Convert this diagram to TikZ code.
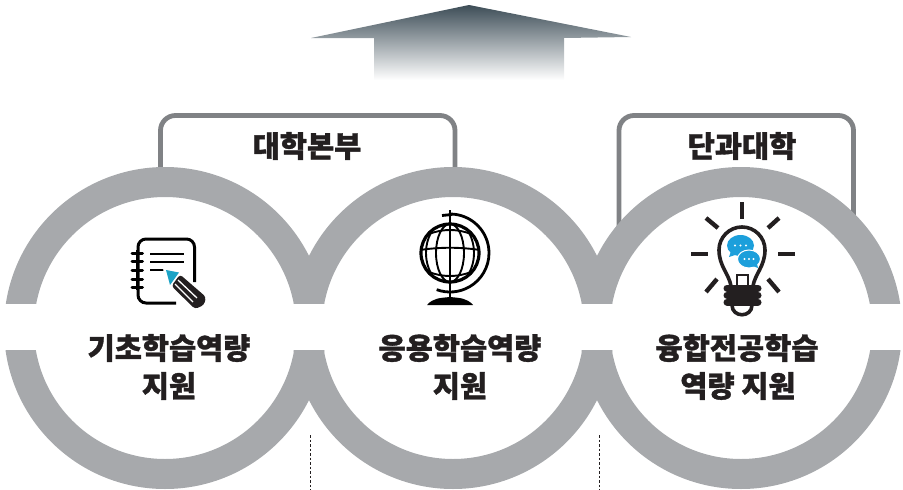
\documentclass[tikz,border=0pt]{standalone}
\usepackage{fontspec}
\newfontfamily\hangul{Noto Sans CJK KR}[BoldFeatures={FakeBold=1.2}]
\definecolor{ringgray}{HTML}{A7A9AC}
\definecolor{boxgray}{HTML}{808285}
\definecolor{inkdark}{HTML}{231F20}
\definecolor{arrowtop}{HTML}{3D4D57}
\definecolor{penteal}{HTML}{1BA3C6}
\definecolor{bubbleblue}{HTML}{1C9FDB}
\tikzset{
    biglabel/.style={font=\hangul\bfseries\fontsize{29.5}{32}\selectfont, text=inkdark, inner sep=0pt, align=center},
    iconline/.style={draw=black, line width=3pt},
    rayline/.style={draw=inkdark, line width=4.4pt}
}

\begin{document}
\begin{tikzpicture}[x=1pt, y=-1pt]
    \useasboundingbox (0,0) rectangle (903,490);

    % arrow on top
    \shade[top color=arrowtop, bottom color=white, middle color=arrowtop!50!white]
        (469,5) -- (631,37) -- (564,38) -- (564,80) -- (374,80) -- (374,38) -- (311,38) -- cycle;

    % brackets behind the rings
    \draw[boxgray, line width=4.8pt, rounded corners=15pt] (160.5,190) -- (160.5,115.5) -- (455,115.5) -- (455,190);
    \draw[boxgray, line width=4.8pt, rounded corners=15pt] (619,240) -- (619,115.5) -- (853.5,115.5) -- (853.5,240);

    % rings
    \foreach \cx in {165,453,741}
        \fill[ringgray, even odd rule] (\cx,328) circle [radius=161] (\cx,328) circle [radius=131];
    \fill[white] (0,304) rectangle (903,350);

    % dashed marks
    \draw[inkdark, line width=0.9pt, dash pattern=on 2.5pt off 2pt] (310,435) -- (310,490);
    \draw[inkdark, line width=0.9pt, dash pattern=on 2.5pt off 2pt] (599,435) -- (599,490);

    % notebook
    \draw[iconline, rounded corners=8pt] (194.5,282) -- (194.5,239) -- (138,239) -- (138,303) -- (176,303);
    \foreach \yy in {253,261,270,279,287}
        \draw[black, line width=3pt, line cap=round] (132,\yy) -- (142.5,\yy);
    \draw[black, line width=3.4pt] (137.5,250) -- (137.5,290);
    \draw[black, line width=2.8pt] (150,254) -- (184,254);
    \draw[black, line width=2.8pt] (150,262) -- (184,262);
    \draw[black, line width=2.8pt] (150,270) -- (165,270);
    \fill[white] (163,268) -- (181,271) -- (209,298) -- (195,312) -- (166,285) -- cycle;
    \fill[penteal] (166,270) -- (179,272.5) -- (170,285) -- cycle;
    \fill[inkdark, rounded corners=3pt] (180,274.5) -- (206,297) -- (204,305) -- (195,309) -- (171.5,286) -- cycle;
    \draw[white, line width=1.3pt] (178,280) -- (197,298);
    \draw[white, line width=1.3pt] (175,284) -- (193,302);

    % globe
    \draw[black, line width=3.2pt] (450,253) circle [radius=29];
    \begin{scope}
        \clip (450,253) circle [radius=29];
        \draw[black, line width=1.9pt] (450,253) ellipse [x radius=14, y radius=29];
        \draw[black, line width=1.9pt] (450,253) ellipse [x radius=24, y radius=33];
        \draw[black, line width=1.9pt] (418,239) .. controls (440,227) and (460,227) .. (482,239);
        \draw[black, line width=1.9pt] (418,267) .. controls (440,279) and (460,279) .. (482,267);
        \draw[black, line width=1.9pt] (420,250) .. controls (440,247) and (460,247) .. (480,250);
    \end{scope}
    \draw[black, line width=2.4pt] (450,210) -- (450,300);
    \draw[black, line width=2.8pt] (450,214) arc [start angle=-90, end angle=110, radius=39];
    \draw[black, line width=2.8pt] (442,215.5) -- (452,214.5);
    \fill[black] (427,305) .. controls (433,298) and (440,298) .. (450,297) .. controls (460,298) and (467,298) .. (473,305) -- cycle;

    % light bulb
    \foreach \ax/\ay/\bx/\by in {742/202/742/219, 691/254/708/254, 778/254/795/254, 706/218/718/228, 779/218/768/228, 706/292/717/279, 779/292/768/279}
        \draw[rayline] (\ax,\ay) -- (\bx,\by);
    \draw[inkdark, line width=3.6pt] (731,286) .. controls (729,274) and (719,266) .. (719,250) arc [start angle=180, end angle=360, radius=23] .. controls (765,266) and (755,274) .. (753,286);
    \draw[inkdark, line width=2.6pt] (737,286) -- (737,275) -- (748,275) -- (748,286);
    \foreach \yy in {288,295,302}
        \draw[inkdark, line width=7pt, line cap=round] (727,\yy) -- (758,\yy);
    \draw[inkdark, line width=3.6pt] (732,305) .. controls (732,318) and (752,318) .. (752,305);
    \fill[bubbleblue] (740.5,245.5) ellipse [x radius=13.5, y radius=10.5];
    \fill[bubbleblue] (729,257) -- (731,251) -- (738,254) -- cycle;
    \fill[bubbleblue, draw=white, line width=1pt] (749,259) ellipse [x radius=11.5, y radius=9];
    \fill[bubbleblue] (758,268) -- (750,265) -- (756,260) -- cycle;
    \foreach \dx in {735,740.5,746}
        \fill[white] (\dx,245.5) circle [radius=1.2];
    \foreach \dx in {744.5,749,753.5}
        \fill[white] (\dx,259) circle [radius=1.1];

    % labels
    \node[biglabel] (univlabel) at (307,146) {대학본부};
    \node[biglabel] (collegelabel) at (742,146) {단과대학};
    \node[biglabel] (basiclabel) at (169,348) {기초학습역량};
    \node[biglabel] (basicsub) at (169,386) {지원};
    \node[biglabel] (applylabel) at (460,348) {응용학습역량};
    \node[biglabel] (applysub) at (460,386) {지원};
    \node[biglabel] (majorlabel) at (737,348) {융합전공학습};
    \node[biglabel] (majorsub) at (738,386) {역량 지원};
\end{tikzpicture}
\end{document}
